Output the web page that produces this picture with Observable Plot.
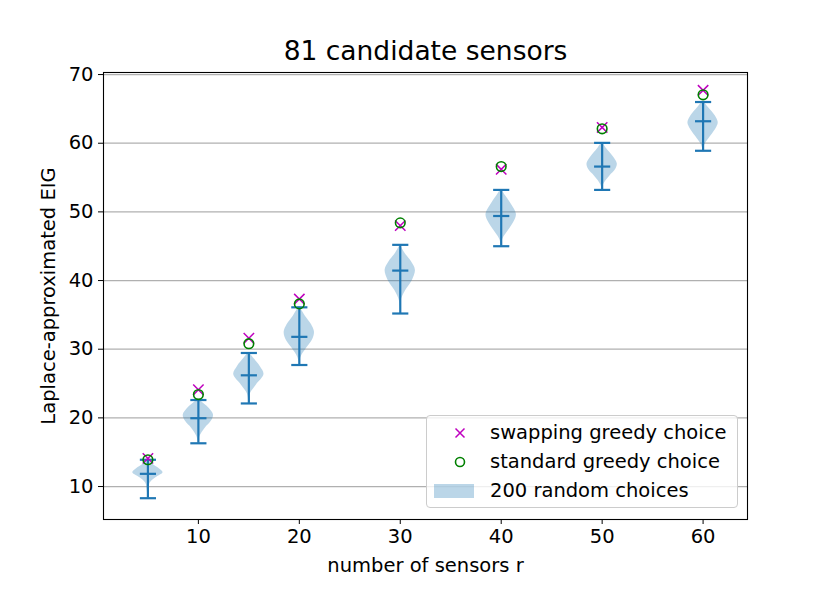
<!DOCTYPE html>
<html>
<head>
<meta charset="utf-8">
<script src="https://cdn.jsdelivr.net/npm/d3@7"></script>
<script src="https://cdn.jsdelivr.net/npm/@observablehq/plot@0.6"></script>
<style>
  body { margin: 0; background: #fff; font-family: "DejaVu Sans", sans-serif; }
  #wrap { position: relative; width: 830px; height: 593px; }
  #legend {
    position: absolute; left: 426px; top: 415px; width: 312px; height: 93px;
    border: 1px solid #cccccc; border-radius: 4px; background: rgba(255,255,255,0.8);
    font-size: 19.5px; color: #000; box-sizing: border-box;
  }
  .row { position: absolute; left: 0; height: 28px; width: 100%; }
  .row svg { position: absolute; left: 6px; top: 0; }
  .row span { position: absolute; left: 63px; top: 50%; transform: translateY(-50%); white-space: nowrap; line-height: 1; }
</style>
</head>
<body>
<div id="wrap"></div>
<script>
const title = "81 candidate sensors";
const xLabel = "number of sensors r";
const yLabel = "Laplace-approximated EIG";
const xTicks = [10, 20, 30, 40, 50, 60];
const yTicks = [10, 20, 30, 40, 50, 60, 70];

const sensors = [5, 10, 15, 20, 30, 40, 50, 60];
const randMin = [8.3, 16.3, 22.1, 27.7, 35.2, 45.0, 53.2, 58.9];
const randMax = [13.9, 22.6, 29.45, 36.1, 45.2, 53.2, 60.05, 66.0];
const randMean = [11.85, 19.95, 26.2, 31.8, 41.45, 49.4, 56.6, 63.2];
const standardGreedy = [13.9, 23.4, 30.8, 36.6, 48.4, 56.6, 62.1, 67.05];
const swappingGreedy = [14.1, 24.1, 31.6, 37.3, 48.0, 56.2, 62.3, 67.7];

// violin outlines: EIG value and relative half-width
const violinValues = [
  [8.3, 9.5, 10.5, 11.3, 12.0, 12.6, 13.3, 13.9],
  [16.3, 17.3, 18.5, 19.5, 20.4, 21.3, 22.1, 22.6],
  [22.1, 23.5, 24.8, 26.3, 27.5, 28.6, 29.45],
  [27.7, 28.8, 30.2, 31.5, 32.5, 33.6, 34.8, 36.1],
  [35.2, 37.0, 38.5, 40.0, 41.5, 42.7, 44.0, 45.2],
  [45.0, 46.0, 47.5, 49.0, 49.7, 51.0, 52.3, 53.2],
  [53.2, 54.0, 55.2, 56.2, 57.0, 58.0, 59.2, 60.05],
  [58.9, 59.7, 61.0, 62.3, 63.0, 64.0, 65.2, 66.0]
];
const violinWidths = [
  [0, 0.05, 0.15, 0.55, 1, 0.75, 0.3, 0],
  [0, 0.1, 0.45, 0.85, 1, 0.75, 0.35, 0.05],
  [0, 0.1, 0.5, 1, 0.75, 0.35, 0.05],
  [0, 0.1, 0.5, 0.9, 1, 0.8, 0.4, 0.05],
  [0, 0.05, 0.35, 0.8, 1, 0.75, 0.3, 0],
  [0, 0.1, 0.55, 0.95, 1, 0.7, 0.3, 0.05],
  [0, 0.1, 0.5, 0.9, 1, 0.75, 0.3, 0.05],
  [0, 0.1, 0.5, 0.9, 1, 0.8, 0.35, 0.05]
];

const HALF = 1.5;   // violin half-width, in r units
const CAP = 0.8;    // cap half-width, in r units
const C0 = "#1f77b4";

const violinRows = sensors.flatMap((r, i) =>
  violinValues[i].map((v, j) => ({r, v, w: violinWidths[i][j]})));
const stats = sensors.map((r, i) => ({
  r, min: randMin[i], max: randMax[i], mean: randMean[i],
  std: standardGreedy[i], swap: swappingGreedy[i]
}));

const chart = Plot.plot({
  width: 830, height: 593,
  marginLeft: 103, marginRight: 83, marginTop: 72, marginBottom: 74,
  style: {fontFamily: "DejaVu Sans", fontSize: "19.5px", color: "#000", background: "transparent"},
  x: {domain: [0.6, 64.4]},
  y: {domain: [5.2, 70.3]},
  marks: [
    Plot.gridY(yTicks, {stroke: "#b0b0b0", strokeOpacity: 1, strokeWidth: 1.2}),
    Plot.areaX(violinRows, {
      y: "v", x1: d => d.r - d.w * HALF, x2: d => d.r + d.w * HALF, z: "r",
      curve: "catmull-rom", fill: C0, fillOpacity: 0.3
    }),
    Plot.ruleX(stats, {x: "r", y1: "min", y2: "max", stroke: C0, strokeWidth: 2.2}),
    Plot.link(stats, {x1: d => d.r - CAP, x2: d => d.r + CAP, y1: "min", y2: "min", stroke: C0, strokeWidth: 2.2}),
    Plot.link(stats, {x1: d => d.r - CAP, x2: d => d.r + CAP, y1: "max", y2: "max", stroke: C0, strokeWidth: 2.2}),
    Plot.link(stats, {x1: d => d.r - CAP, x2: d => d.r + CAP, y1: "mean", y2: "mean", stroke: C0, strokeWidth: 2.2}),
    Plot.dot(stats, {x: "r", y: "swap", symbol: "times", r: 4.8, stroke: "#bf00bf", strokeWidth: 1.5}),
    Plot.dot(stats, {x: "r", y: "std", symbol: "circle", r: 4.8, stroke: "#008000", strokeWidth: 1.6, fill: "none"}),
    Plot.frame({stroke: "#000", strokeWidth: 1.1}),
    Plot.axisY(yTicks, {tickSize: 5, tickPadding: 5, label: null, stroke: "#000"}),
    Plot.axisX(xTicks, {tickSize: 5, tickPadding: 5, label: null, stroke: "#000"}),
    Plot.text([title], {frameAnchor: "top", textAnchor: "middle", lineAnchor: "middle", dy: -21, fontSize: 26.5}),
    Plot.text([xLabel], {frameAnchor: "bottom", textAnchor: "middle", lineAnchor: "middle", dy: 46}),
    Plot.text([yLabel], {frameAnchor: "left", textAnchor: "middle", lineAnchor: "middle", rotate: -90, dx: -55})
  ]
});

const wrap = document.getElementById("wrap");
wrap.appendChild(chart);

const legendItems = [
  {label: "swapping greedy choice", kind: "times"},
  {label: "standard greedy choice", kind: "circle"},
  {label: "200 random choices", kind: "patch"}
];
const legend = document.createElement("div");
legend.id = "legend";
legendItems.forEach((it, i) => {
  const row = document.createElement("div");
  row.className = "row";
  row.style.top = (3 + i * 29) + "px";
  let sym = "";
  if (it.kind === "times") sym = `<svg width="42" height="28"><path d="M22.5,9.5 L31.5,18.5 M31.5,9.5 L22.5,18.5" stroke="#bf00bf" stroke-width="1.5"/></svg>`;
  else if (it.kind === "circle") sym = `<svg width="42" height="28"><circle cx="27" cy="14" r="4.5" fill="none" stroke="#008000" stroke-width="1.6"/></svg>`;
  else sym = `<svg width="42" height="28"><rect x="1" y="7" width="40" height="14" fill="${C0}" fill-opacity="0.3"/></svg>`;
  row.innerHTML = sym + `<span>${it.label}</span>`;
  legend.appendChild(row);
});
wrap.appendChild(legend);
</script>
</body>
</html>
